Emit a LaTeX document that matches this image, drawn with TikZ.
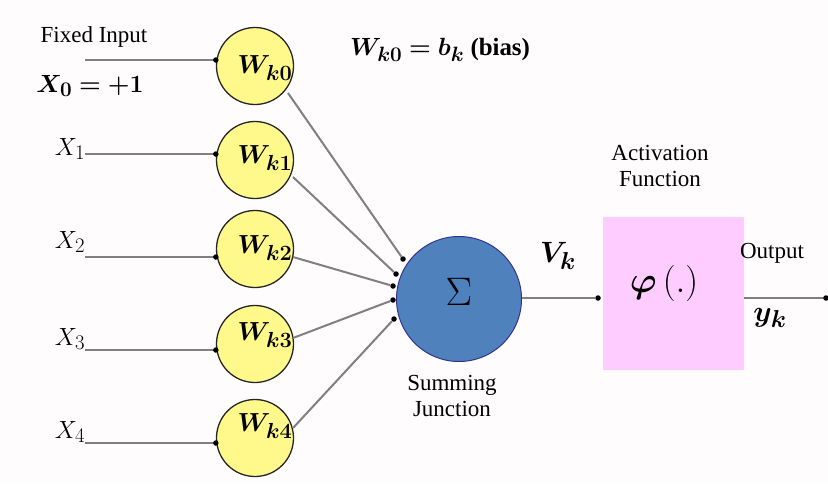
\documentclass[tikz,border=0pt]{standalone}
\usepackage{fontspec}
\setmainfont{Liberation Serif}
\usepackage{bm}
\begin{document}
\begin{tikzpicture}[x=1pt,y=-1pt,
  wcirc/.style={circle,draw=black!85,line width=1.3pt,fill=yellow!45,minimum size=77pt,inner sep=0pt},
  conn/.style={draw=black!50,line width=2pt},
  pin/.style={circle,fill=black,minimum size=5.5pt,inner sep=0pt},
  txt/.style={font=\fontsize{23}{26}\selectfont,inner sep=0pt,align=center},
  mth/.style={font=\fontsize{24.88}{28}\selectfont,inner sep=0pt}]
\fill[fill=white!96!magenta!30] (0,0) rectangle (828,483);
\useasboundingbox (0,0) rectangle (828,483);
% weight circles
\foreach \i/\y in {0/66,1/160,2/249,3/344,4/438}{
  \node[wcirc] (c\i) at (255,\y) {};
}
% W labels
\foreach \i/\y in {0/68,1/158,2/248,3/335,4/426}{
  \node[mth] (wl\i) at (265,\y) {\scalebox{1.05}{$\bm{W_{k\i}}$}};
}
% inputs
\foreach \i/\y in {0/60,1/154,2/257,3/350,4/443}{
  \coordinate (in\i) at (85,\y);
  \draw[conn] (in\i) -- (in\i -| c\i.west) node[pin] (ip\i) {};
}
\node[txt] (fixed) at (94,37) {Fixed Input};
\node[mth] (x0) at (90,86) {$\bm{X_0=+1}$};
\node[mth] (x1) at (70,149) {$X_1$};
\node[mth] (x2) at (70,242) {$X_2$};
\node[mth] (x3) at (70,339) {$X_3$};
\node[mth] (x4) at (70,432) {$X_4$};
\node[mth] (bias) at (440,50) {$\bm{W_{k0}=b_k}$ \textbf{(bias)}};
% summing junction
\node[circle,draw=blue!45!black!80,line width=1pt,fill={rgb,255:red,79;green,129;blue,189},
  minimum size=125pt,inner sep=0pt] (sum) at (459,299) {};
\node[mth] (sig) at (459,292) {\scalebox{1.6}{$\Sigma$}};
\node[txt] (sj) at (452,396) {Summing\\Junction};
% pins on sum
\foreach \i/\x/\y in {0/403/259,1/396/274,2/393/286,3/393/300,4/394/319}{
  \node[pin] (s\i) at (\x,\y) {};
}
\coordinate (o0) at (288,93);
\coordinate (o1) at (293,177);
\coordinate (o2) at (293,257);
\coordinate (o3) at (293,338);
\coordinate (o4) at (293,428);
\foreach \i in {0,...,4}{\draw[conn] (o\i) -- (s\i);}
% activation
\node[fill={rgb,255:red,255;green,204;blue,255},minimum width=141pt,minimum height=153pt,inner sep=0pt] (act) at (673.5,293.5) {};
\node[mth] (phi) at (664,283) {\scalebox{1.45}{$\bm{\varphi}\,(.)$}};
\node[txt] (actl) at (660,166) {Activation\\Function};
\node[pin] (ap) at (598,298) {};
\draw[conn] (sum.east |- ap) -- (ap);
\node[mth] (vk) at (558,256) {\scalebox{1.18}{$\bm{V_k}$}};
\coordinate (oe) at (826,298);
\draw[conn] (act.east |- oe) -- (oe) node[pin] (op) {};
\node[txt] (outl) at (772,253) {Output};
\node[mth] (yk) at (770,318) {\scalebox{1.18}{$\bm{y_k}$}};
\end{tikzpicture}
\end{document}
